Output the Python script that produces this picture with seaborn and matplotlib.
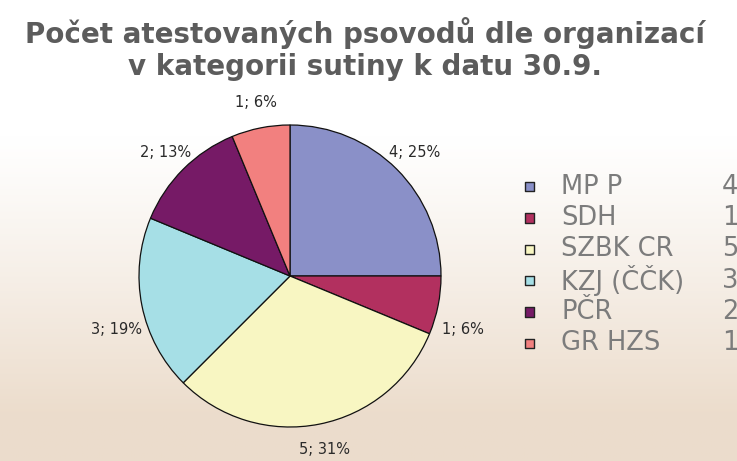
import numpy as np
import matplotlib
matplotlib.use("Agg")
import matplotlib.pyplot as plt
import seaborn as sns

categories = ["MP P", "SDH", "SZBK CR", "KZJ (ČČK)", "PČR", "GR HZS"]
values = [4, 1, 5, 3, 2, 1]
colors = ["#8a90c8", "#b2305f", "#f8f6c2", "#a6dfe6", "#761a66", "#f2807f"]
title = "Počet atestovaných psovodů dle organizací\nv kategorii sutiny k datu 30.9."

sns.set_theme(style="white")
plt.rcParams['font.family'] = ['DejaVu Sans']

W, H = 737, 461
fig = plt.figure(figsize=(W / 100, H / 100), dpi=100)

# faded background
bg = fig.add_axes([0, 0, 1, 1])
yy, xx = np.mgrid[0:1:200j, 0:1:300j]
t = np.clip((yy - 0.3) / 0.6, 0, 1) ** 1.1
top = np.array([1.0, 1.0, 1.0])
bot = np.array([0.925, 0.865, 0.80])
img = top[None, None, :] * (1 - t[..., None]) + bot[None, None, :] * t[..., None]
bg.imshow(np.clip(img, 0, 1), aspect="auto", extent=[0, 1, 0, 1], origin="upper")
bg.axis("off")

fig.text(365 / W, 1 - 49 / H, title, ha="center", va="center",
         fontsize=20, fontweight="bold", color="#5c5c5c", linespacing=1.15)

# pie
cx, cy, r = 290, 276, 151
ax = fig.add_axes([(cx - r) / W, (H - cy - r) / H, 2 * r / W, 2 * r / H])
wedges, _ = ax.pie(values, colors=colors, startangle=90, counterclock=False,
                   wedgeprops=dict(edgecolor="#111111", linewidth=0.9), radius=1)
ax.set_xlim(-1, 1)
ax.set_ylim(-1, 1)
ax.set_aspect("equal")
ax.axis("off")

total = sum(values)
for w, v in zip(wedges, values):
    ang = np.deg2rad((w.theta1 + w.theta2) / 2)
    d = 1.17
    pct = int(100 * v / total + 0.5)
    ax.text(d * np.cos(ang), d * np.sin(ang) - 0.15 * abs(np.cos(ang)) ** 8, f"{v}; {pct}%",
            ha="center", va="center", fontsize=10.5, color="#2a2a2a")

# legend
lx0 = 520
lax = fig.add_axes([lx0 / W, (H - 359) / H, 1 - lx0 / W, (359 - 171) / H])
n = len(categories)
ys = np.arange(n)
lax.scatter([0.046] * n, ys, marker="s", s=42, c=colors, edgecolors="#222222", linewidths=1.0)
for y, c, v in zip(ys, categories, values):
    lax.text(0.19, y, c, ha="left", va="center", fontsize=18.5, color="#7c7c7c")
    lax.text(0.93, y, str(v), ha="left", va="center", fontsize=18.5, color="#7c7c7c")
lax.set_xlim(0, 1)
lax.set_ylim(n - 0.5, -0.5)
lax.axis("off")

fig.savefig("out.png", dpi=100)
